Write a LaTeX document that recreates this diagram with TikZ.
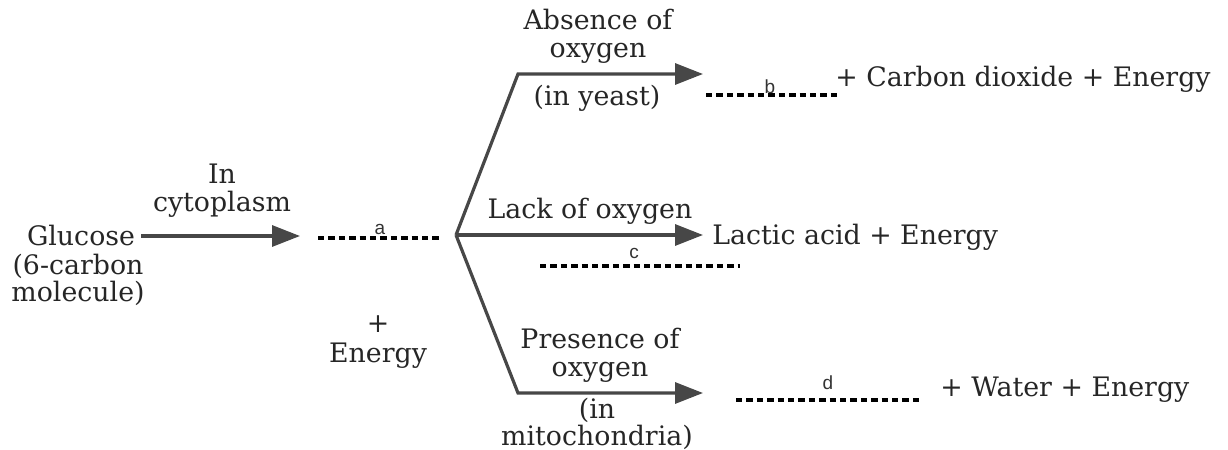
\documentclass[tikz,border=0pt]{standalone}
\usepackage{fontspec}
\setmainfont{DejaVu Serif}
\newfontfamily\lblfont{Liberation Sans}
\usetikzlibrary{arrows.meta}
\begin{document}
\begin{tikzpicture}[x=0.5pt,y=-0.5pt,
  txt/.style={font=\fontsize{13.4}{13.8}\selectfont, text=black!85, inner sep=0pt, align=center},
  lbl/.style={font=\lblfont\fontsize{9.5}{10}\selectfont, text=black!80, inner sep=0pt},
  conn/.style={draw=black!72, line width=1.6pt, line join=miter},
  arr/.style={conn, -{Triangle[length=14pt,width=10.5pt]}},
  blank/.style={draw=black, line width=1.6pt, dash pattern=on 3.2pt off 2pt}]
\useasboundingbox (0,0) rectangle (1228,450);
% left part
\node[txt] (glu) at (81,236) {Glucose};
\node[txt] (glusub) at (78,280) {(6-carbon\\molecule)};
\node[txt] (cyto) at (222,191) {In\\cytoplasm};
\coordinate (a1) at (300,235);
\draw[arr] ([xshift=3pt]glu.east) -- (glu.east -| a1);
\coordinate (as) at (318,238);
\coordinate (ae) at (441,238);
\draw[blank] (as) -- (ae);
\node[lbl] (la) at (380,229) {a};
\node[txt] (plus) at (378,324) {+};
\node[txt] (en) at (378,356) {Energy};
% branches
\coordinate (br) at (456,235);
\coordinate (ub) at (518,74);
\coordinate (lb) at (518,393);
\coordinate (ue) at (703,74);
\coordinate (me) at (703,235);
\coordinate (le) at (703,393);
\draw[arr] (br) -- (ub) -- (ue);
\draw[arr] (br) -- (me);
\draw[arr] (br) -- (lb) -- (le);
% top branch
\node[txt] (abs) at (598,36) {Absence of\\oxygen};
\node[txt] (yeast) at (597,98) {(in yeast)};
\coordinate (bs) at (706,95);
\coordinate (be) at (837,95);
\draw[blank] (bs) -- (be);
\node[lbl] (lb2) at (770,87) {b};
\node[txt, anchor=west] (co2) at (835,79) {+ Carbon dioxide + Energy};
% middle branch
\node[txt] (lack) at (590,211) {Lack of oxygen};
\node[txt, anchor=west] (lac) at (712,237) {Lactic acid + Energy};
\coordinate (cs) at (540,266);
\coordinate (ce) at (740,266);
\draw[blank] (cs) -- (ce);
\node[lbl] (lc) at (634,253) {c};
% bottom branch
\node[txt] (pres) at (600,355) {Presence of\\oxygen};
\node[txt] (mito) at (597,424) {(in\\mitochondria)};
\coordinate (ds) at (736,400);
\coordinate (de) at (921,400);
\draw[blank] (ds) -- (de);
\node[lbl] (ld) at (828,383) {d};
\node[txt, anchor=west] (wat) at (940,390) {+ Water + Energy};
\end{tikzpicture}
\end{document}
